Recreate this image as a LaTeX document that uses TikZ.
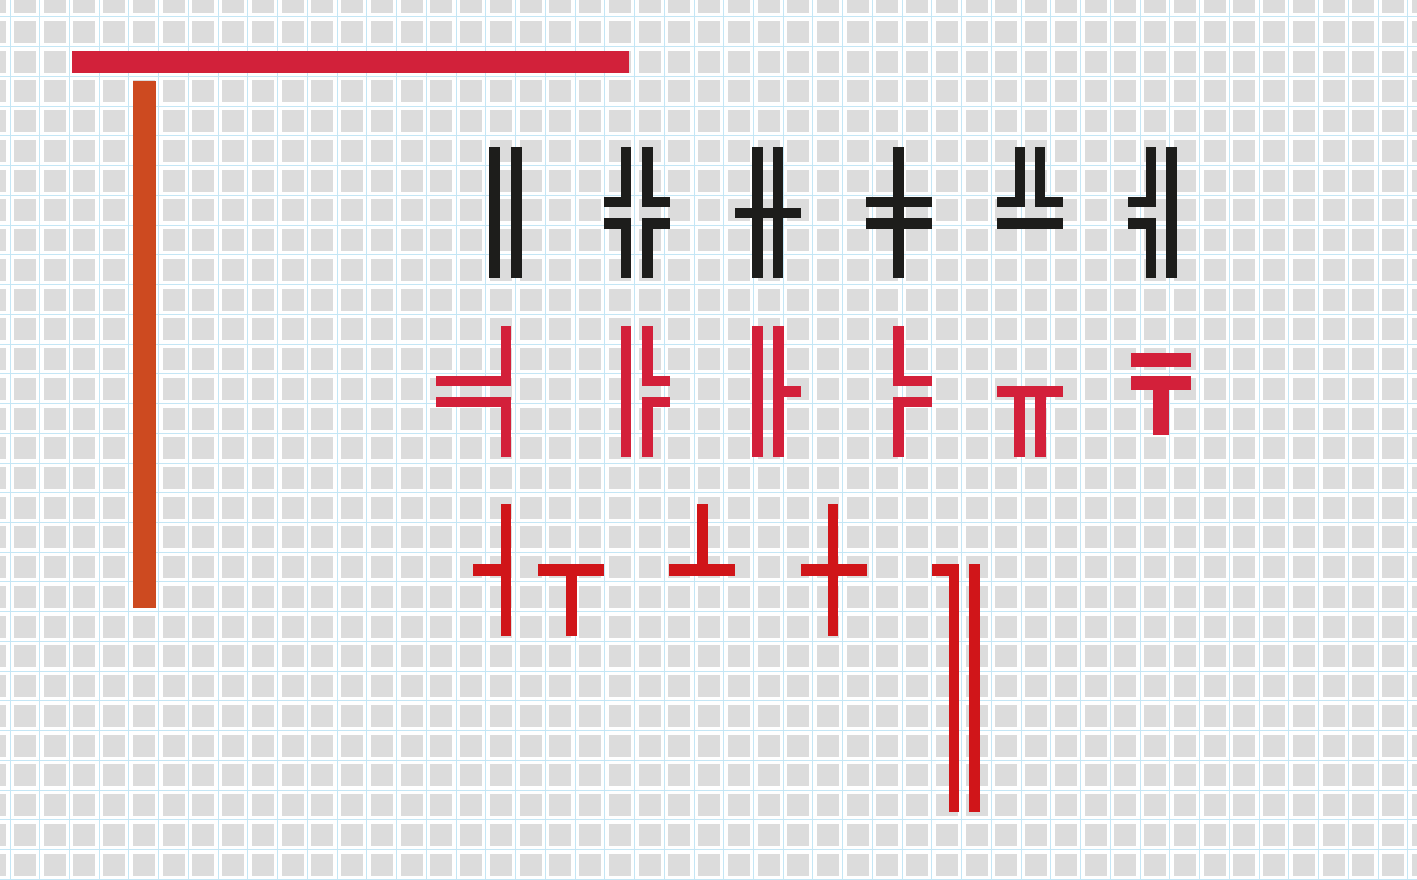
\documentclass[tikz,border=0pt]{standalone}
\definecolor{gridgray}{HTML}{DCDCDC}
\definecolor{gridblue}{HTML}{C4E6F5}
\definecolor{inkblack}{HTML}{1D1D1B}
\definecolor{crimson}{HTML}{D3203A}
\definecolor{pured}{HTML}{D01519}
\definecolor{toprd}{HTML}{D2213A}
\definecolor{orangebar}{HTML}{CD4A20}
\tikzset{
  blk/.style={fill=inkblack},
  crs/.style={fill=crimson},
  prd/.style={fill=pured},
}
\begin{document}
\begin{tikzpicture}[x=1pt,y=-1pt]
\useasboundingbox (0,0) rectangle (1417,880);
\fill[white] (0,0) rectangle (1417,880);
% grid lines
\foreach \k in {0,...,47} {
  \draw[gridblue,line width=1pt] ({10+29.74*\k},0) -- ({10+29.74*\k},880);
}
\foreach \k in {0,...,29} {
  \draw[gridblue,line width=1pt] (0,{16.9+29.74*\k}) -- (1417,{16.9+29.74*\k});
}
% gray squares
\foreach \i in {-1,...,47} {
  \foreach \j in {-1,...,29} {
    \fill[gridgray] ({14+29.74*\i},{20.9+29.74*\j}) rectangle ++(22,22);
  }
}
% big bars
\fill[toprd] (72,51) rectangle (629.3,73.3);
\fill[orangebar] (133.3,81) rectangle (155.7,608.3);
% ---- black row ----
% S1
\fill[blk] (489,147) rectangle (500,278);
\fill[blk] (511,147) rectangle (521.5,278);
% S2
\fill[blk] (620.7,147) rectangle (631.3,207.3);
\fill[blk] (604,197.3) rectangle (631.3,207.3);
\fill[blk] (642,147) rectangle (652.7,207.3);
\fill[blk] (642,197.3) rectangle (670,207.3);
\fill[blk] (604,218.3) rectangle (631.3,229);
\fill[blk] (620.7,218.3) rectangle (631.3,278.3);
\fill[blk] (642,218.3) rectangle (670,229);
\fill[blk] (642,218.3) rectangle (652.7,278.3);
% S3
\fill[blk] (752.3,147) rectangle (762.7,278);
\fill[blk] (772.7,147) rectangle (783.3,278);
\fill[blk] (735,207.7) rectangle (800.7,218.3);
% S4
\fill[blk] (893.3,147) rectangle (904,278);
\fill[blk] (866,197.3) rectangle (931.7,207.3);
\fill[blk] (866,218.3) rectangle (931.7,229);
% S5
\fill[blk] (1015,147) rectangle (1025,207.3);
\fill[blk] (997.3,197.3) rectangle (1025,207.3);
\fill[blk] (1035,147) rectangle (1045,207.3);
\fill[blk] (1035,197.3) rectangle (1062.7,207.3);
\fill[blk] (997.3,218.3) rectangle (1062.7,229);
% S6
\fill[blk] (1166,147) rectangle (1176.7,278);
\fill[blk] (1146,147) rectangle (1156,207.3);
\fill[blk] (1127.7,197.3) rectangle (1156,207.3);
\fill[blk] (1127.7,218.3) rectangle (1156,229);
\fill[blk] (1146,218.3) rectangle (1156,278);
% ---- crimson row ----
% A
\fill[crs] (501,326) rectangle (511,386);
\fill[crs] (435.7,376) rectangle (511,386);
\fill[crs] (435.7,396.7) rectangle (511,407.3);
\fill[crs] (501,396.7) rectangle (511,456.7);
% B
\fill[crs] (621,326) rectangle (631,456.7);
\fill[crs] (642.3,326) rectangle (653,386);
\fill[crs] (642.3,376) rectangle (669.7,386);
\fill[crs] (642.3,396.7) rectangle (669.7,407.3);
\fill[crs] (642.3,396.7) rectangle (653,456.7);
% C
\fill[crs] (752.3,326) rectangle (762.7,456.7);
\fill[crs] (773.3,326) rectangle (783.7,456.7);
\fill[crs] (783.7,386) rectangle (800.7,396.7);
% D
\fill[crs] (893.3,326) rectangle (904,386);
\fill[crs] (893.3,376) rectangle (932,386);
\fill[crs] (893.3,396.7) rectangle (932,407.3);
\fill[crs] (893.3,396.7) rectangle (904,456.7);
% E
\fill[crs] (997.3,386) rectangle (1062.7,396.7);
\fill[crs] (1014.3,386) rectangle (1025,456.7);
\fill[crs] (1035,386) rectangle (1045.7,456.7);
% F
\fill[crs] (1131,353.3) rectangle (1190.7,367.3);
\fill[crs] (1131,376) rectangle (1190.7,390);
\fill[crs] (1152.7,376) rectangle (1169.3,435);
% ---- red row ----
% G
\fill[prd] (500.7,504.3) rectangle (511,635.7);
\fill[prd] (472.7,564) rectangle (511,575.7);
% H
\fill[prd] (538.3,564) rectangle (604,575.7);
\fill[prd] (566,564) rectangle (576.7,635.7);
% I
\fill[prd] (697.3,504.3) rectangle (707.7,575.7);
\fill[prd] (669.3,564) rectangle (735.3,575.7);
% J
\fill[prd] (828,504.3) rectangle (838.3,635.7);
\fill[prd] (800.7,564) rectangle (866.7,575.7);
% K
\fill[prd] (931.7,564) rectangle (959.3,575.5);
\fill[prd] (949,564) rectangle (959.3,811.7);
\fill[prd] (969.3,564) rectangle (980,811.7);
\end{tikzpicture}
\end{document}
